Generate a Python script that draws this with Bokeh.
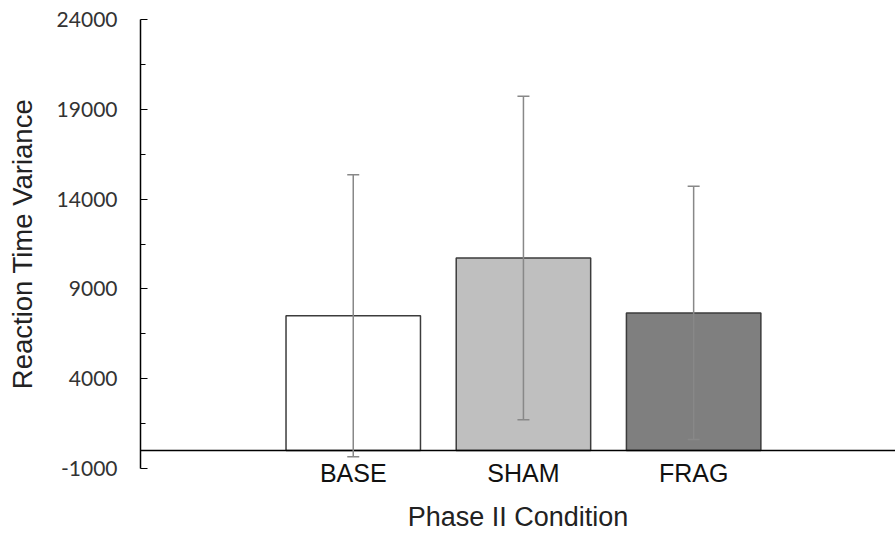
from bokeh.plotting import figure
from bokeh.models import (ColumnDataSource, Range1d, FixedTicker, Span, Whisker, TeeHead)
from bokeh.embed import file_html
from bokeh.resources import INLINE

# ---- data ----
categories = ["BASE", "SHAM", "FRAG"]
means = [7500, 10720, 7660]
errors = [7850, 9000, 7050]
bar_colors = ["#FFFFFF", "#BFBFBF", "#7F7F7F"]
y_ticks = [-1000, 4000, 9000, 14000, 19000, 24000]
y_minor_ticks = [1500, 6500, 11500, 16500, 21500]

positions = list(range(len(categories)))
lower = [m - e for m, e in zip(means, errors)]
upper = [m + e for m, e in zip(means, errors)]

src = ColumnDataSource(dict(x=positions, top=means, lower=lower, upper=upper,
                            color=bar_colors))

p = figure(width=895, height=535, output_backend="svg", toolbar_location=None,
           x_range=Range1d(-1.25, 3.186), y_range=Range1d(-1000, 24000),
           min_border_left=140, min_border_right=0, min_border_top=19,
           min_border_bottom=67)
p.outline_line_color = None
p.xgrid.grid_line_color = None
p.ygrid.grid_line_color = None
p.background_fill_color = "white"
p.border_fill_color = "white"

p.vbar(x="x", top="top", bottom=0, width=0.79, source=src, fill_color="color",
       line_color="#3c3c3c", line_width=1.5)

w = Whisker(base="x", upper="upper", lower="lower", source=src,
            line_color="#888888", line_width=1.5,
            upper_head=TeeHead(size=12, line_color="#888888", line_width=1.5),
            lower_head=TeeHead(size=12, line_color="#888888", line_width=1.5))
w.level = "overlay"
p.add_layout(w)

p.add_layout(Span(location=0, dimension="width", line_color="black", line_width=1.5))

# y axis
ya = p.yaxis[0]
ya.ticker = FixedTicker(ticks=y_ticks, minor_ticks=y_minor_ticks)
ya.major_label_overrides = {t: str(t) for t in y_ticks}
ya.axis_line_color = "black"
ya.axis_line_width = 1.5
ya.major_tick_in = 7
ya.major_tick_out = 0
ya.minor_tick_in = 5
ya.minor_tick_out = 0
ya.major_tick_line_color = "black"
ya.minor_tick_line_color = "black"
ya.major_tick_line_width = 1.2
ya.minor_tick_line_width = 1.2
ya.major_label_text_font = "Lato"
ya.major_label_text_font_size = "21px"
ya.major_label_text_color = "#333333"
ya.major_label_standoff = 23
ya.axis_label = "Reaction Time Variance"
ya.axis_label_text_font = "Liberation Sans"
ya.axis_label_text_font_size = "27.5px"
ya.axis_label_text_font_style = "normal"
ya.axis_label_text_color = "#222222"
ya.axis_label_standoff = 16

# x axis
xa = p.xaxis[0]
xa.ticker = FixedTicker(ticks=positions)
xa.major_label_overrides = {i: c for i, c in zip(positions, categories)}
xa.axis_line_color = None
xa.major_tick_line_color = None
xa.minor_tick_line_color = None
xa.major_label_text_font = "Liberation Sans"
xa.major_label_text_font_size = "25px"
xa.major_label_text_color = "#111111"
xa.major_label_standoff = -16
xa.axis_label = "Phase II Condition"
xa.axis_label_text_font = "Liberation Sans"
xa.axis_label_text_font_size = "27px"
xa.axis_label_text_font_style = "normal"
xa.axis_label_text_color = "#222222"
xa.axis_label_standoff = 12

open("out.html", "w").write(file_html(p, INLINE))
